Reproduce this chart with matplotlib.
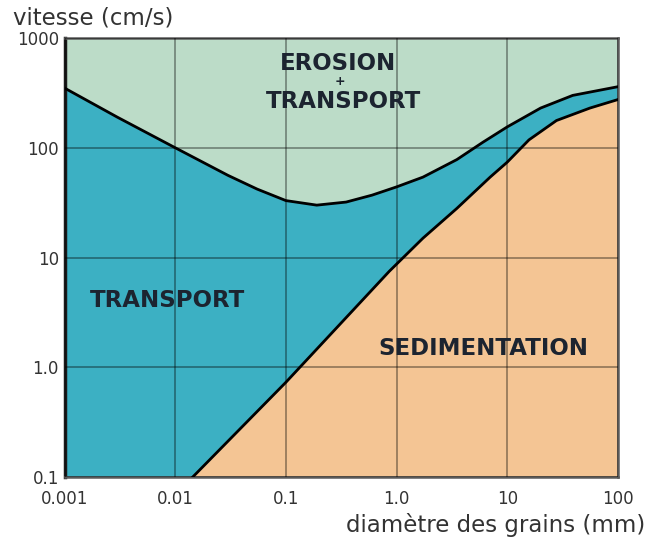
import matplotlib
matplotlib.use('Agg')
from matplotlib import pyplot as plt
from matplotlib.ticker import FixedLocator, FixedFormatter, NullLocator

# Erosion threshold (upper curve) and sedimentation threshold (lower curve)
upper_x = [0.001, 0.003, 0.01, 0.03, 0.055, 0.1, 0.19, 0.35, 0.6, 1, 1.73, 3.5, 6, 10, 20, 39, 100]
upper_y = [350, 190, 100, 56, 42, 33, 30, 32, 37, 44, 54, 78, 112, 155, 230, 300, 360]

lower_x = [0.0144, 0.1, 0.86, 1.73, 3.5, 7, 10, 15.7, 27.8, 55.8, 100]
lower_y = [0.1, 0.73, 7.5, 15, 28, 54, 74, 118, 177, 230, 275]

x_ticks = [0.001, 0.01, 0.1, 1, 10, 100]
x_labels = ['0.001', '0.01', '0.1', '1.0', '10', '100']
y_ticks = [0.1, 1, 10, 100, 1000]
y_labels = ['0.1', '1.0', '10', '100', '1000']

green = '#bcdcc8'
teal = '#3cb0c3'
orange = '#f4c594'
text_c = '#1c2430'

fig = plt.figure(figsize=(6.55, 5.39), dpi=100)
ax = fig.add_axes([0.0985, 0.115, 0.845, 0.8145])
ax.set_xscale('log')
ax.set_yscale('log')
ax.set_xlim(0.001, 100)
ax.set_ylim(0.1, 1000)
ax.set_facecolor(green)

# Fill regions
ax.fill_between(upper_x, 0.1, upper_y, color=teal, lw=0, zorder=1)
ax.fill_between(lower_x, 0.1, lower_y, color=orange, lw=0, zorder=1.1)

# Curves
ax.plot(upper_x, upper_y, color='k', lw=2, zorder=3, solid_joinstyle='round')
ax.plot(lower_x, lower_y, color='k', lw=2, zorder=3, solid_joinstyle='round')

# Ticks and grid
ax.xaxis.set_major_locator(FixedLocator(x_ticks))
ax.xaxis.set_major_formatter(FixedFormatter(x_labels))
ax.yaxis.set_major_locator(FixedLocator(y_ticks))
ax.yaxis.set_major_formatter(FixedFormatter(y_labels))
ax.xaxis.set_minor_locator(NullLocator())
ax.yaxis.set_minor_locator(NullLocator())
ax.set_axisbelow(False)
ax.grid(True, color='k', alpha=0.45, lw=1.1)
ax.tick_params(axis='both', length=0, labelsize=12, labelcolor='#333333')
ax.tick_params(axis='x', pad=9)
ax.tick_params(axis='y', pad=4)

for side in ['top', 'right', 'bottom']:
    ax.spines[side].set_color('#5a5a5a')
    ax.spines[side].set_linewidth(1.8)
ax.spines['left'].set_color('#1a1a1a')
ax.spines['left'].set_linewidth(2.5)

# Region labels
lab = dict(fontsize=16.5, fontweight='bold', color=text_c, ha='center', va='center', zorder=4)
ax.text(0.297, 590, 'EROSION', **lab)
ax.text(0.31, 400, '+', fontsize=9, fontweight='bold', color=text_c, ha='center', va='center', zorder=4)
ax.text(0.33, 262, 'TRANSPORT', **lab)
ax.text(0.00845, 4.07, 'TRANSPORT', **lab)
ax.text(6.08, 1.49, 'SEDIMENTATION', **lab)

# Axis titles
fig.text(13 / 655, 1 - 18 / 539, 'vitesse (cm/s)', fontsize=16.5, color='#333333',
         ha='left', va='center')
fig.text(645 / 655, 1 - 525 / 539, 'diamètre des grains (mm)', fontsize=16.5, color='#333333',
         ha='right', va='center')

fig.savefig('out.png', dpi=100)
